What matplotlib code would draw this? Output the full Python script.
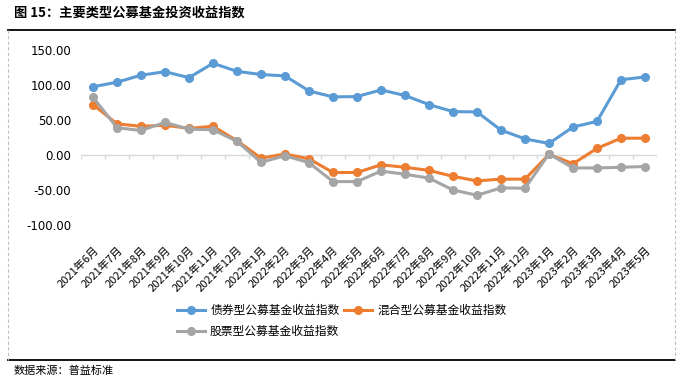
import matplotlib

matplotlib.use("Agg")
import matplotlib.pyplot as plt
from matplotlib.lines import Line2D

plt.rcParams["font.family"] = ["Noto Sans CJK SC", "DejaVu Sans"]
plt.rcParams["axes.unicode_minus"] = False

months = [
    "2021年6月", "2021年7月", "2021年8月", "2021年9月", "2021年10月", "2021年11月",
    "2021年12月", "2022年1月", "2022年2月", "2022年3月", "2022年4月", "2022年5月",
    "2022年6月", "2022年7月", "2022年8月", "2022年9月", "2022年10月", "2022年11月",
    "2022年12月", "2023年1月", "2023年2月", "2023年3月", "2023年4月", "2023年5月",
]
bond = [97.5, 104, 114, 119, 110.5, 131, 119.5, 115, 113, 91.5, 83, 83.5,
        93, 85, 72, 62, 61.5, 35.5, 23, 16.5, 40, 48, 107.5, 111.5]
mixed = [72, 44.5, 41, 42.5, 38, 41, 20.5, -4.5, 1.5, -5.5, -25, -25,
         -14, -17.5, -22, -30.5, -37, -34.5, -34.5, 1, -12.5, 9.5, 24, 24]
stock = [82.5, 39, 35, 46.5, 37, 36, 19.5, -10.5, -1, -11, -38, -38,
         -23, -27.5, -33, -50, -57.5, -47, -47.5, 1.5, -18.5, -18.5, -17.5, -16.5]
series_names = ["债券型公募基金收益指数", "混合型公募基金收益指数", "股票型公募基金收益指数"]
colors = ["#5B9BD5", "#ED7D31", "#A5A5A5"]
yticks = [-100, -50, 0, 50, 100, 150]

W, H = 683, 381
fig = plt.figure(figsize=(W / 100, H / 100), dpi=100)
ax = fig.add_axes([81 / W, 1 - 225 / H, 576 / W, 175 / H])

x = list(range(len(months)))
handles = {}
for name, vals, c in zip(series_names, [bond, mixed, stock], colors):
    (h,) = ax.plot(x, vals, color=c, lw=2.2, marker="o", ms=5.5, label=name,
                   solid_joinstyle="round")
    handles[name] = h

# zero line with category boundary ticks
ax.axhline(0, color="#D9D9D9", lw=1, zorder=0)
ax.vlines([i - 0.5 for i in range(len(months) + 1)], -6, 0, color="#D9D9D9", lw=1, zorder=0)

ax.set_xlim(-0.5, len(months) - 0.5)
ax.set_ylim(-100, 150)
ax.set_yticks(yticks)
ax.set_yticklabels([f"{v:.2f}" for v in yticks], fontsize=8.5, family=["DejaVu Sans"])
ax.set_xticks(x)
ax.set_xticklabels(months, rotation=45, ha="right", rotation_mode="anchor", fontsize=8)
ax.tick_params(axis="both", length=0)
ax.tick_params(axis="y", pad=7)
ax.tick_params(axis="x", pad=14)
for s in ax.spines.values():
    s.set_visible(False)

fig.legend(
    [handles[series_names[0]], handles[series_names[2]], handles[series_names[1]]],
    [series_names[0], series_names[2], series_names[1]],
    ncol=2, frameon=False, fontsize=8.5, loc="upper left",
    bbox_to_anchor=(177 / W, 1 - 304 / H), borderpad=0, borderaxespad=0,
    handlelength=2.4, columnspacing=0.4, labelspacing=0.65, handletextpad=0.4,
)

# frame, title and source
fig.add_artist(Line2D([8 / W, 675 / W], [1 - 30 / H, 1 - 30 / H], color="black", lw=1.3))
fig.add_artist(Line2D([8 / W, 675 / W], [1 - 360 / H, 1 - 360 / H], color="black", lw=1.3))
for xe in (8, 675):
    fig.add_artist(Line2D([xe / W, xe / W], [1 - 30 / H, 1 - 360 / H], color="#C0C0C0",
                          lw=0.8, ls=(0, (3, 2))))
fig.text(14 / W, 1 - 13 / H, "图 15：主要类型公募基金投资收益指数", fontsize=9.5,
         fontweight="bold", va="center", ha="left")
fig.text(14 / W, 1 - 371 / H, "数据来源：普益标准", fontsize=8, va="center", ha="left")

fig.savefig("out.png", dpi=100)
